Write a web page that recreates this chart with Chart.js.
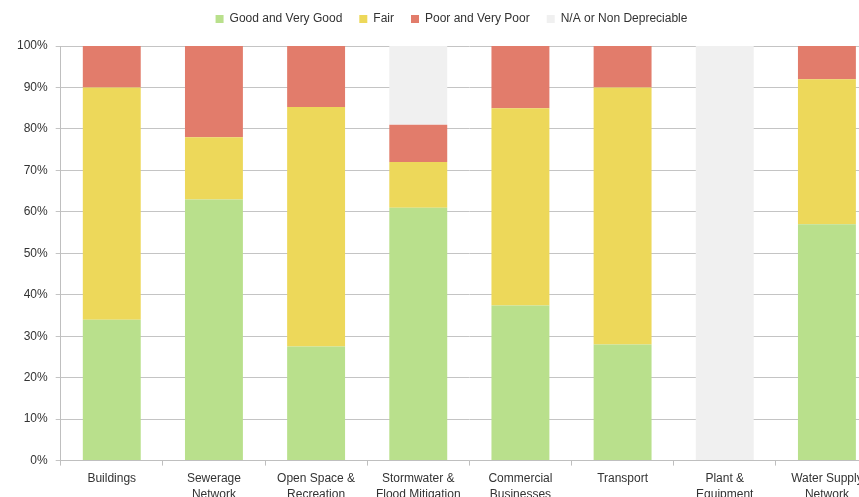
<!DOCTYPE html>
<html>
<head>
<meta charset="utf-8">
<title>Asset condition</title>
<script src="https://cdn.jsdelivr.net/npm/chart.js@4"></script>
<style>
  html, body { margin: 0; padding: 0; background: #fff; overflow: hidden; }
  #wrap { width: 906px; height: 508px; }
</style>
</head>
<body>
<div id="wrap"><canvas id="condicao" width="906" height="508"></canvas></div>
<script>
// categorias e percentuais por condição
var categorias = [
    'Buildings',
    ['Sewerage', 'Network'],
    ['Open Space &', 'Recreation'],
    ['Stormwater &', 'Flood Mitigation'],
    ['Commercial', 'Businesses'],
    'Transport',
    ['Plant &', 'Equipment'],
    ['Water Supply', 'Network']
];
var bom = [34, 63, 27.5, 61, 37.4, 28, 0, 57];
var regular = [56, 15, 57.8, 11, 47.6, 62, 0, 35];
var ruim = [10, 22, 14.7, 9, 15, 10, 0, 8];
var naoDepreciavel = [0, 0, 0, 19, 0, 0, 100, 0];
var ticksY = [0, 10, 20, 30, 40, 50, 60, 70, 80, 90, 100];

document.addEventListener("DOMContentLoaded", function () {
    desenharGrafico();
});

// reposiciona a legenda depois do layout (um pouco à direita e para cima)
var ajusteLegenda = {
    id: 'ajusteLegenda',
    afterLayout: function (chart) {
        var leg = chart.legend;
        if (!leg) return;
        leg.left += 8;
        leg.right += 8;
        leg.top -= 11;
        leg.bottom -= 11;
    }
};

function desenharGrafico() {
    var ctx = document.getElementById('condicao').getContext('2d');
    var fonte = { family: "'Liberation Sans', Arial, sans-serif", size: 12 };

    new Chart(ctx, {
        type: 'bar',
        data: {
            labels: categorias,
            datasets: [
                { label: 'Good and Very Good', data: bom, backgroundColor: '#b9e08c' },
                { label: 'Fair', data: regular, backgroundColor: '#edd85a' },
                { label: 'Poor and Very Poor', data: ruim, backgroundColor: '#e27c6b' },
                { label: 'N/A or Non Depreciable', data: naoDepreciavel, backgroundColor: '#f0f0f0' }
            ]
        },
        plugins: [ajusteLegenda],
        options: {
            responsive: false,
            animation: false,
            layout: { padding: { top: 7, right: 28, left: 9, bottom: 0 } },
            datasets: {
                bar: { categoryPercentage: 1, barPercentage: 0.567, borderWidth: 0 }
            },
            scales: {
                x: {
                    stacked: true,
                    grid: { drawOnChartArea: false, drawTicks: true, tickLength: 5, color: '#bfbfbf', offset: true },
                    border: { color: '#bfbfbf' },
                    ticks: {
                        color: '#333',
                        font: { family: fonte.family, size: 12, lineHeight: 1.35 },
                        padding: 5,
                        maxRotation: 0,
                        autoSkip: false
                    }
                },
                y: {
                    stacked: true,
                    min: 0,
                    max: 100,
                    afterBuildTicks: function (escala) {
                        escala.ticks = ticksY.map(function (v) { return { value: v }; });
                    },
                    grid: { color: '#c4c4c4', tickLength: 5 },
                    border: { color: '#bfbfbf' },
                    ticks: {
                        color: '#333',
                        font: fonte,
                        padding: 8,
                        callback: function (v) { return v + '%'; }
                    }
                }
            },
            plugins: {
                legend: {
                    position: 'top',
                    labels: {
                        boxWidth: 8,
                        boxHeight: 8,
                        padding: 17,
                        color: '#333',
                        font: fonte
                    }
                },
                tooltip: { enabled: false }
            }
        }
    });
}
</script>
</body>
</html>
